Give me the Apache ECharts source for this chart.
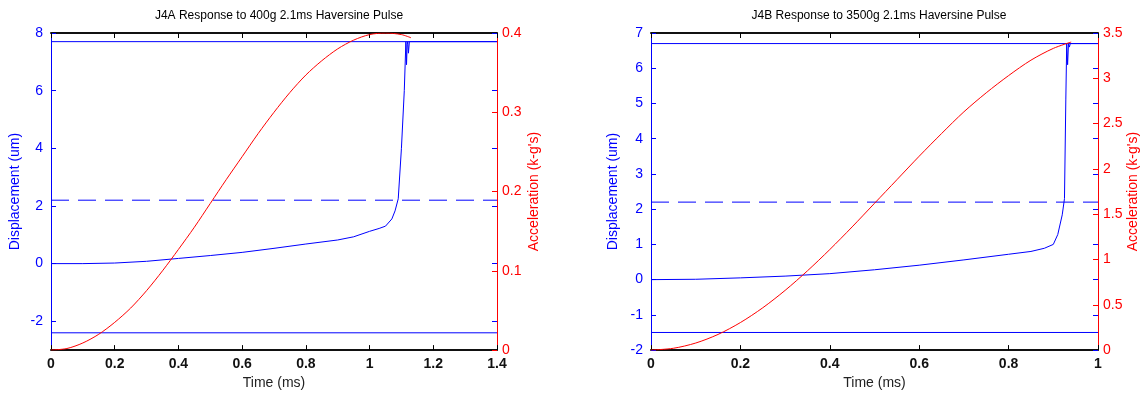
<!DOCTYPE html>
<html>
<head>
<meta charset="utf-8">
<script src="https://cdn.jsdelivr.net/npm/echarts@6/dist/echarts.min.js"></script>
<style>
  html, body { margin: 0; padding: 0; background: #fff; }
  #chart { width: 1143px; height: 395px; }
</style>
</head>
<body>
<div id="chart"></div>
<script>
// J4A: 400g pulse
const timeA = [0, 0.1, 0.2, 0.3, 0.4, 0.5, 0.6, 0.7, 0.8, 0.9, 0.95, 1.0, 1.03, 1.05, 1.07, 1.08, 1.09, 1.1, 1.109, 1.114, 1.116, 1.118, 1.12, 1.122, 1.125, 1.4];
const dispA = [0, 0, 0.02, 0.08, 0.18, 0.28, 0.39, 0.53, 0.68, 0.82, 0.93, 1.12, 1.22, 1.3, 1.55, 1.83, 2.25, 4.0, 6.0, 7.7, 6.9, 7.6, 7.7, 7.3, 7.7, 7.7];
const accTimeA = [0, 0.05, 0.1, 0.15, 0.2, 0.25, 0.3, 0.35, 0.4, 0.45, 0.5, 0.55, 0.6, 0.65, 0.7, 0.75, 0.8, 0.85, 0.9, 0.95, 1.0, 1.05, 1.1, 1.13];
const accA = [0, 0.002, 0.009, 0.02, 0.035, 0.053, 0.075, 0.1, 0.127, 0.155, 0.185, 0.215, 0.244, 0.273, 0.3, 0.325, 0.347, 0.365, 0.38, 0.391, 0.398, 0.4, 0.398, 0.394];
const levelsA = [7.7, -2.4];   // solid limit lines
const dashA = 2.2;

// J4B: 3500g pulse
const timeB = [0, 0.1, 0.2, 0.3, 0.4, 0.5, 0.6, 0.7, 0.8, 0.85, 0.88, 0.9, 0.91, 0.92, 0.925, 0.928, 0.93, 0.932, 0.934, 0.936, 0.938, 1.0];
const dispB = [0, 0.01, 0.05, 0.1, 0.17, 0.28, 0.41, 0.56, 0.72, 0.8, 0.89, 1.0, 1.28, 1.84, 2.3, 5.1, 6.7, 6.1, 6.7, 6.6, 6.7, 6.7];
const accTimeB = [0, 0.05, 0.1, 0.15, 0.2, 0.25, 0.3, 0.35, 0.4, 0.45, 0.5, 0.55, 0.6, 0.65, 0.7, 0.75, 0.8, 0.85, 0.9, 0.94];
const accB = [0, 0.02, 0.078, 0.173, 0.304, 0.467, 0.659, 0.875, 1.11, 1.36, 1.62, 1.88, 2.14, 2.39, 2.63, 2.84, 3.03, 3.2, 3.33, 3.4];
const levelsB = [6.7, -1.5];
const dashB = 2.2;

const blue = '#0000ff';
const red = '#ff0000';
const font = 'Liberation Sans, Arial, sans-serif';

function pairs(xs, ys) {
  return xs.map((x, i) => [x, ys[i]]);
}

function xAxisPair(gridIndex, max) {
  const base = {
    gridIndex: gridIndex,
    type: 'value',
    min: 0,
    max: max,
    interval: 0.2,
    splitLine: { show: false },
    axisLine: { onZero: false, lineStyle: { color: '#111', width: 2 } },
    axisTick: { inside: true, length: 5, lineStyle: { color: '#000' } }
  };
  return [
    Object.assign({}, base, {
      position: 'bottom',
      name: 'Time (ms)',
      nameLocation: 'middle',
      nameGap: 25,
      nameTextStyle: { color: '#222', fontSize: 14, fontFamily: font },
      axisLabel: { color: '#111', fontSize: 14, fontWeight: 'bold', fontFamily: font, margin: 7 }
    }),
    Object.assign({}, base, {
      position: 'top',
      axisLabel: { show: false }
    })
  ];
}

function leftAxis(gridIndex, min, max, labels, gap) {
  return {
    gridIndex: gridIndex,
    type: 'value',
    position: 'left',
    min: min,
    max: max,
    interval: 1,
    name: 'Displacement (um)',
    nameLocation: 'middle',
    nameGap: gap,
    nameTextStyle: { color: blue, fontSize: 14, fontFamily: font },
    splitLine: { show: false },
    axisLine: { onZero: false, lineStyle: { color: blue } },
    axisTick: { inside: true, length: 5, lineStyle: { color: blue }, customValues: labels },
    axisLabel: { color: blue, fontSize: 14, fontFamily: font, margin: 8, customValues: labels }
  };
}

function mirrorAxis(gridIndex, min, max, labels) {
  return {
    gridIndex: gridIndex,
    type: 'value',
    position: 'right',
    min: min,
    max: max,
    interval: 1,
    splitLine: { show: false },
    axisLine: { show: false, onZero: false },
    axisTick: { inside: true, length: 5, lineStyle: { color: blue }, customValues: labels },
    axisLabel: { show: false }
  };
}

function rightAxis(gridIndex, max, interval, gap) {
  return {
    gridIndex: gridIndex,
    type: 'value',
    position: 'right',
    min: 0,
    max: max,
    interval: interval,
    name: "Acceleration (k-g's)",
    nameLocation: 'middle',
    nameGap: gap,
    nameRotate: 90,
    nameTextStyle: { color: red, fontSize: 14, fontFamily: font },
    splitLine: { show: false },
    axisLine: { onZero: false, lineStyle: { color: red } },
    axisTick: { inside: true, length: 5, lineStyle: { color: red } },
    axisLabel: { color: red, fontSize: 14, fontFamily: font, margin: 5 }
  };
}

function line(name, data, xIdx, yIdx, color, dash, smooth) {
  return {
    name: name,
    type: 'line',
    xAxisIndex: xIdx,
    yAxisIndex: yIdx,
    data: data,
    showSymbol: false,
    symbol: 'none',
    clip: true,
    smooth: smooth || false,
    lineStyle: { color: color, width: 1, type: dash || 'solid' },
    z: 3
  };
}

const labelsA = [-2, 0, 2, 4, 6, 8];
const labelsB = [-2, -1, 0, 1, 2, 3, 4, 5, 6, 7];

const series = [
  line('J4A disp', pairs(timeA, dispA), 0, 0, blue),
  line('J4A upper', [[0, levelsA[0]], [1.4, levelsA[0]]], 0, 0, blue),
  line('J4A lower', [[0, levelsA[1]], [1.4, levelsA[1]]], 0, 0, blue),
  line('J4A dashed', [[0, dashA], [1.4, dashA]], 0, 0, blue, [18, 9]),
  line('J4A acc', pairs(accTimeA, accA), 0, 1, red, null, 0.3),
  line('J4B disp', pairs(timeB, dispB), 2, 3, blue),
  line('J4B upper', [[0, levelsB[0]], [1, levelsB[0]]], 2, 3, blue),
  line('J4B lower', [[0, levelsB[1]], [1, levelsB[1]]], 2, 3, blue),
  line('J4B dashed', [[0, dashB], [1, dashB]], 2, 3, blue, [18, 9]),
  line('J4B acc', pairs(accTimeB, accB), 2, 4, red, null, 0.3)
];

const chart = echarts.init(document.getElementById('chart'), null, { renderer: 'canvas' });
chart.setOption({
  animation: false,
  backgroundColor: '#fff',
  title: [
    { text: 'J4A Response to 400g 2.1ms Haversine Pulse', left: 274, top: 5, textAlign: 'center',
      textStyle: { fontSize: 12, fontWeight: 'normal', color: '#000', fontFamily: font } },
    { text: 'J4B Response to 3500g 2.1ms Haversine Pulse', left: 874, top: 5, textAlign: 'center',
      textStyle: { fontSize: 12, fontWeight: 'normal', color: '#000', fontFamily: font } }
  ],
  grid: [
    { left: 51, right: 646, top: 33, bottom: 41 },
    { left: 651, right: 45, top: 33, bottom: 41 }
  ],
  xAxis: [].concat(xAxisPair(0, 1.4), xAxisPair(1, 1)),
  yAxis: [
    leftAxis(0, -3, 8, labelsA, 29),
    rightAxis(0, 0.4, 0.1, 30),
    mirrorAxis(0, -3, 8, labelsA),
    leftAxis(1, -2, 7, labelsB, 31),
    rightAxis(1, 3.5, 0.5, 28),
    mirrorAxis(1, -2, 7, labelsB)
  ],
  series: series
});
</script>
</body>
</html>
